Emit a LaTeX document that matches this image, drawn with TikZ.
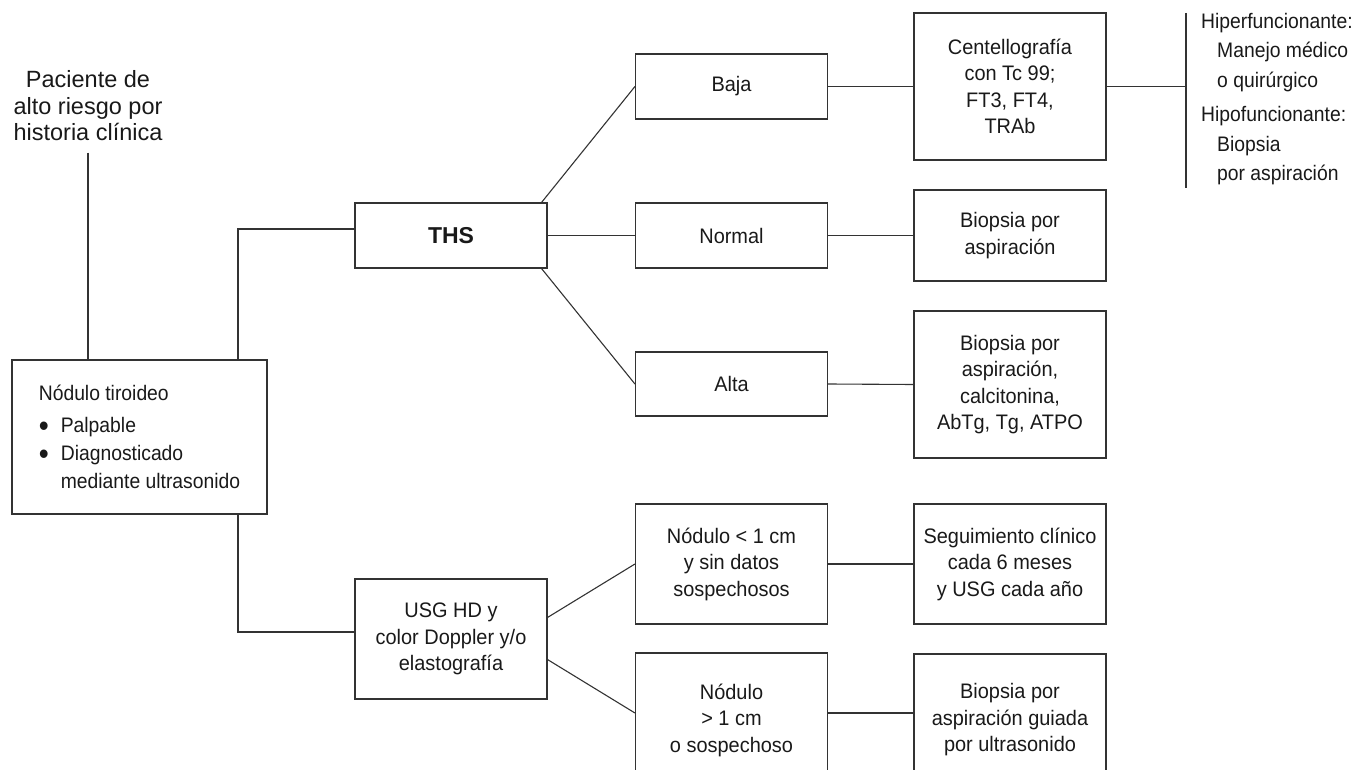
\documentclass[tikz,border=0pt]{standalone}
\usepackage{fontspec}
\setmainfont{Liberation Sans}[FakeStretch=0.95]
\newfontfamily\widefont{Liberation Sans}
\newfontfamily\narrowfont{Liberation Sans}[FakeStretch=0.92]
\usetikzlibrary{calc}
\newcommand{\bul}{\makebox[22pt][l]{\raisebox{-3.5pt}{\fontsize{31}{31}\selectfont\textbullet}}}
\begin{document}
\begin{tikzpicture}[x=1pt,y=-1pt,
  box/.style={draw=black!80, line width=1.1pt, minimum width=192pt, align=center,
    inner sep=2pt, font=\fontsize{21}{26.5}\selectfont, text=black!90},
  conn/.style={draw=black!80, line width=1.1pt},
  plain/.style={font=\narrowfont\fontsize{21}{29.5}\selectfont, text=black!90, inner sep=0pt},
]
\useasboundingbox (0,0) rectangle (1353,770);

% left part
\node[font=\widefont\fontsize{23.5}{26.5}\selectfont, align=center, text=black!90] (pac) at (88,106)
  {Paciente de\\alto riesgo por\\historia clínica};
\node[box, minimum width=255pt, minimum height=154pt, align=left,
  font=\narrowfont\fontsize{21}{28}\selectfont] (nod) at (139.5,437)
  {Nódulo tiroideo\\[4pt]
   \bul Palpable\\
   \bul Diagnosticado\\
   \hspace*{22pt}mediante ultrasonido};

% column 1
\node[box, minimum height=65pt, font=\widefont\bfseries\fontsize{23}{26.5}\selectfont] (ths) at (451,235.5) {THS};
\node[box, minimum height=120pt] (usg) at (451,639) {USG HD y\\color Doppler y/o\\elastografía};

% column 2
\node[box, minimum height=65pt] (baja) at (731.5,86.5) {Baja};
\node[box, minimum height=65pt] (normal) at (731.5,235.5) {Normal};
\node[box, minimum height=64pt] (alta) at (731.5,384) {Alta};
\node[box, minimum height=120pt] (nodA) at (731.5,564) {Nódulo < 1 cm\\y sin datos\\sospechosos};
\node[box, minimum height=134pt] (nodB) at (731.5,720) {Nódulo\\> 1 cm\\o sospechoso};

% column 3
\node[box, minimum height=147pt] (cent) at (1010,86.5) {Centellografía\\con Tc 99;\\FT3, FT4,\\TRAb};
\node[box, minimum height=91pt] (biop1) at (1010,235.5) {Biopsia por\\aspiración};
\node[box, minimum height=147pt] (biop2) at (1010,384.5) {Biopsia por\\aspiración,\\calcitonina,\\AbTg, Tg, ATPO};
\node[box, minimum height=120pt] (seg) at (1010,564) {Seguimiento clínico\\cada 6 meses\\y USG cada año};
\node[box, minimum height=132pt] (biop3) at (1010,720) {Biopsia por\\aspiración guiada\\por ultrasonido};

% right text
\coordinate (vtop) at (1186,13);
\coordinate (vbot) at (1186,188);
\node[plain, align=left, anchor=north west] (res) at (1201,13)
  {Hiperfuncionante:\\
   \hspace*{16pt}Manejo médico\\
   \hspace*{16pt}o quirúrgico\\[5pt]
   Hipofuncionante:\\
   \hspace*{16pt}Biopsia\\
   \hspace*{16pt}por aspiración};

% connectors
\coordinate (trunk) at (238,0);
\draw[conn] ([yshift=-8pt]pac.south) -- (pac.south |- nod.north);
\draw[conn] (nod.north -| trunk) |- ([yshift=6.5pt]ths.west);
\draw[conn] (nod.south -| trunk) |- ([yshift=7pt]usg.west);

\draw[conn] ([xshift=-6pt]ths.north east) -- (baja.west);
\draw[conn] (ths.east) -- (normal.west);
\draw[conn] ([xshift=-6pt]ths.south east) -- (alta.west);

\draw[conn] ([yshift=-39pt]usg.north east) -- (nodA.west);
\draw[conn] ([yshift=40pt]usg.south east) -- ([yshift=7pt]nodB.west);

\draw[conn] (baja.east) -- (cent.west);
\draw[conn] (normal.east) -- (biop1.west);
\draw[conn] (alta.east) -- (biop2.west);
\draw[conn] (nodA.east) -- (seg.west);
\draw[conn] ([yshift=7pt]nodB.east) -- ([yshift=7pt]biop3.west);

\draw[conn] (cent.east) -- (cent.east -| vtop);
\draw[conn] (vtop) -- (vbot);
\end{tikzpicture}
\end{document}
